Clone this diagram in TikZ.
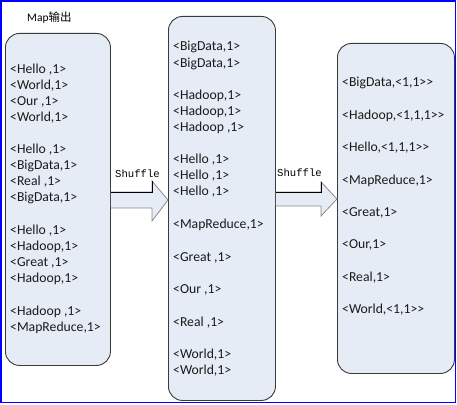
\documentclass[tikz,border=0pt]{standalone}
\usepackage{fontspec}
\setmainfont{Carlito}
\newfontfamily\cjk{Noto Sans CJK SC}
\newfontfamily\shfont{Liberation Mono}
\definecolor{boxfill}{HTML}{E6ECF6}
\definecolor{boxline}{HTML}{3A3A3A}
\definecolor{arrline}{HTML}{8A8A8A}
\definecolor{txt}{HTML}{1A1A1A}
\begin{document}
\begin{tikzpicture}[x=1pt,y=-1pt,
  box/.style={draw=boxline,fill=boxfill,line width=0.9pt,rounded corners=14pt,inner sep=0pt},
  entry/.style={anchor=base west,inner sep=0pt,text=txt,font=\fontsize{13.7}{16}\selectfont},
  shuf/.style={anchor=base west,inner sep=0pt,font=\shfont\fontsize{10.6}{12}\selectfont},
  arrowbody/.style={fill=boxfill,draw=arrline,line width=0.8pt,line join=miter},
  arrowtop/.style={draw=black,line width=0.9pt}]
\useasboundingbox (0,0) rectangle (457,404);
% blue frame
\fill[blue] (0,0) rectangle (455.8,2.2);
\fill[blue] (0,0) rectangle (2.2,403);
\fill[blue] (454.8,0) rectangle (455.8,403);
\fill[blue] (0,401.8) rectangle (455.8,403);
% title
\node[anchor=base west,inner sep=0pt,font=\fontsize{11.5}{13}\selectfont] (title) at (27,22) {Map{\cjk 输出}};
% boxes
\node[box,anchor=north west,minimum width=105pt,minimum height=332pt] (L) at (5,33) {};
\node[box,anchor=north west,minimum width=107pt,minimum height=384pt] (M) at (168,16) {};
\node[box,anchor=north west,minimum width=117pt,minimum height=330pt] (R) at (337,43) {};
% arrows
\path[arrowbody] (L.east |- 0,192) -- (152,192) -- (152,181) -- (M.west |- 0,200) -- (152,221) -- (152,208) -- (L.east |- 0,208);
\draw[arrowtop] (L.east |- 0,192) -- (152,192) -- (152,181);
\path[arrowbody] (M.east |- 0,192) -- (321,192) -- (321,182) -- (R.west |- 0,199) -- (321,216) -- (321,206) -- (M.east |- 0,206);
\draw[arrowtop] (M.east |- 0,192) -- (321,192) -- (321,182);
\node[shuf] (s1) at (115,177) {Shuffle};
\node[shuf] (s2) at (277,176) {Shuffle};
% left entries
\foreach \y/\t [count=\i] in {73/{<Hello ,1>},89/{<World,1>},105/{<Our ,1>},121/{<World,1>},
  153/{<Hello ,1>},169/{<BigData,1>},185/{<Real ,1>},201/{<BigData,1>},
  234/{<Hello ,1>},250/{<Hadoop,1>},266/{<Great ,1>},282/{<Hadoop,1>},
  315/{<Hadoop ,1>},331/{<MapReduce,1>}}
  \node[entry] (l\i) at (10,\y) {\t};
% middle entries
\foreach \y/\t [count=\i] in {51/{<BigData,1>},67/{<BigData,1>},
  99/{<Hadoop,1>},115/{<Hadoop,1>},131/{<Hadoop ,1>},
  163/{<Hello ,1>},179/{<Hello ,1>},195/{<Hello ,1>},
  228/{<MapReduce,1>},261/{<Great ,1>},293/{<Our ,1>},326/{<Real ,1>},
  358/{<World,1>},374/{<World,1>}}
  \node[entry] (m\i) at (173,\y) {\t};
% right entries
\foreach \y/\t [count=\i] in {86/{<BigData,<1,1>{}>},119/{<Hadoop,<1,1,1>{}>},151/{<Hello,<1,1,1>{}>},
  184/{<MapReduce,1>},216/{<Great,1>},248/{<Our,1>},281/{<Real,1>},313/{<World,<1,1>{}>}}
  \node[entry] (r\i) at (342,\y) {\t};
\end{tikzpicture}
\end{document}
